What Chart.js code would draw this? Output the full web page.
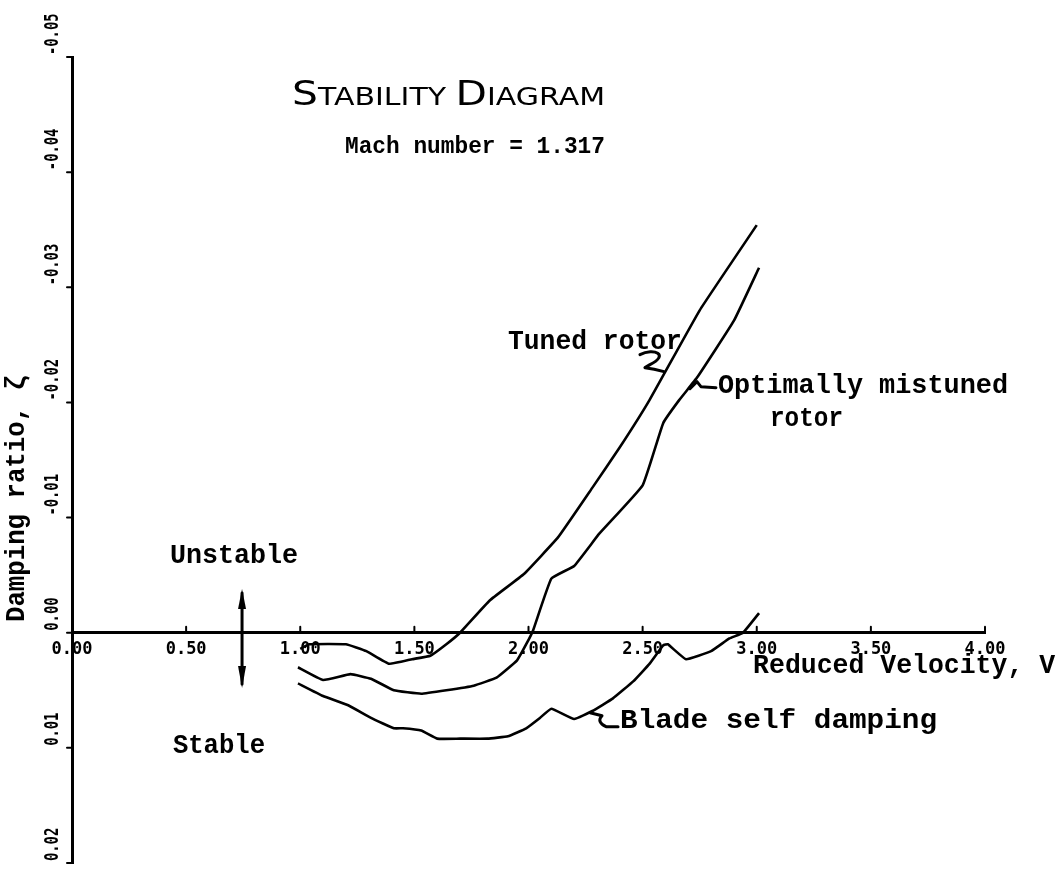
<!DOCTYPE html>
<html><head><meta charset="utf-8">
<script src="https://cdn.jsdelivr.net/npm/chart.js@4.4.1/dist/chart.umd.min.js"></script>
<style>html,body{margin:0;padding:0;background:#fff;}#wrap{width:1063px;height:878px;}</style>
</head><body><div id="wrap"><canvas id="c" width="1063" height="878"></canvas></div>
<script>
// ---- data ----
const velocityTuned = [1.00,1.04,1.20,1.29,1.39,1.49,1.57,1.64,1.70,1.83,1.98,2.13,2.28,2.40,2.53,2.75,3.00];
const zetaTuned     = [0.0014,0.0010,0.0010,0.0016,0.0027,0.0023,0.0020,0.0010,0.0000,-0.0028,-0.0051,-0.0083,-0.0126,-0.0161,-0.0202,-0.0280,-0.0354];

const velocityMistuned = [0.99,1.10,1.22,1.31,1.41,1.53,1.64,1.76,1.86,1.95,1.99,2.02,2.10,2.20,2.31,2.50,2.59,2.66,2.74,2.90,3.01];
const zetaMistuned     = [0.0030,0.0041,0.0036,0.0040,0.0050,0.0053,0.0050,0.0046,0.0039,0.0024,0.0010,-0.0002,-0.0047,-0.0058,-0.0086,-0.0128,-0.0182,-0.0202,-0.0222,-0.0271,-0.0317];

const velocityBlade = [0.99,1.10,1.21,1.31,1.41,1.45,1.53,1.60,1.70,1.82,1.91,1.99,2.05,2.10,2.20,2.28,2.37,2.46,2.53,2.59,2.61,2.69,2.80,2.88,2.94,3.01];
const zetaBlade     = [0.0044,0.0055,0.0063,0.0074,0.0083,0.0083,0.0085,0.0092,0.0092,0.0092,0.0090,0.0083,0.0074,0.0066,0.0075,0.0068,0.0057,0.0042,0.0027,0.0011,0.0010,0.0023,0.0016,0.0005,0.0000,-0.0017];

const xTickLabels = ['0.00','0.50','1.00','1.50','2.00','2.50','3.00','3.50','4.00'];
const yTickLabels = ['-0.05','-0.04','-0.03','-0.02','-0.01','0.00','0.01','0.02'];

const titleText = 'STABILITY DIAGRAM';
const subtitleText = 'Mach number = 1.317';
const xTitle = 'Reduced Velocity, V';
const yTitle = 'Damping ratio, \u03B6';

// stability arrow (data coords)
const arrowX = 0.745, arrowTop = -0.0038, arrowBottom = 0.0048;

// ---- layout of annotations (data coords: left x, right x, baseline y) ----
const notes = [
  {text:'Tuned rotor', x0:1.910, x1:2.672, y:-0.02467, leader:(c,x,y)=>{c.moveTo(x+132,y+6);c.bezierCurveTo(x+146,y-1,x+162,y+6,x+142,y+16);c.lineTo(x+137,y+19);c.quadraticCurveTo(x+146,y+20,x+156,y+23);}},
  {text:'Optimally mistuned', x0:2.830, x1:4.101, y:-0.02085, leader:(c,x,y)=>{c.moveTo(x-28,y-4);c.lineTo(x-21,y-11);c.lineTo(x-17,y-6);c.lineTo(x-2,y-5);}},
  {text:'rotor', x0:3.058, x1:3.378, y:-0.01798},
  {text:'Blade self damping', x0:2.401, x1:3.790, y:0.00825, leader:(c,x,y)=>{c.moveTo(x-30,y-15);c.lineTo(x-18,y-12);c.quadraticCurveTo(x-24,y-6,x-14,y-1);c.lineTo(x-2,y-1);}},
  {text:'Unstable', x0:0.429, x1:0.990, y:-0.00608},
  {text:'Stable', x0:0.442, x1:0.846, y:0.01043},
  {text:xTitle, x0:2.984, x1:4.307, y:0.00348}
];
const monoFont = 'bold 27px "Liberation Mono"';

function fitText(ctx, text, x, y, font, width, rot) {
  ctx.save();
  ctx.font = font;
  ctx.textAlign = 'left';
  ctx.textBaseline = 'alphabetic';
  const w = ctx.measureText(text).width;
  ctx.translate(x, y);
  if (rot) ctx.rotate(rot);
  ctx.scale(width / w, 1);
  ctx.fillText(text, 0, 0);
  ctx.restore();
}

const annot = {
  id: 'annot',
  afterDraw(chart) {
    const ctx = chart.ctx, xs = chart.scales.x, ys = chart.scales.y;
    const X = v => xs.getPixelForValue(v), Y = v => ys.getPixelForValue(v);
    ctx.save();
    ctx.fillStyle = '#000';
    ctx.strokeStyle = '#000';
    ctx.lineCap = 'round';
    ctx.lineJoin = 'round';

    // small tick marks
    ctx.lineWidth = 2;
    const y0 = Y(0);
    xs.ticks.forEach(t => { if (t.value > 0) { ctx.beginPath(); ctx.moveTo(X(t.value), y0 - 6); ctx.lineTo(X(t.value), y0); ctx.stroke(); } });
    const xl = chart.chartArea.left;
    ys.ticks.forEach(t => { ctx.beginPath(); ctx.moveTo(xl - 5, Y(t.value)); ctx.lineTo(xl, Y(t.value)); ctx.stroke(); });

    // rotated y tick labels
    ys.ticks.forEach(t => {
      const s = yTickLabels.find(l => Math.abs(parseFloat(l) - t.value) < 1e-6);
      if (!s) return;
      fitText(ctx, s, xl - 14, Y(t.value) - 2, 'bold 20px "DejaVu Sans Mono"', s.length * 8.3, -Math.PI / 2);
    });

    // y axis title (rotated)
    fitText(ctx, yTitle, 24, 622, monoFont, 247, -Math.PI / 2);

    // title with small caps
    const segs = [['S', 34], ['TABILITY ', 25], ['D', 34], ['IAGRAM', 25]];
    let nat = 0;
    segs.forEach(s => { ctx.font = s[1] + 'px "DejaVu Sans"'; nat += ctx.measureText(s[0]).width; });
    const sx = 313 / nat;
    let cx = X(0.964);
    const by = Y(-0.04579);
    segs.forEach(s => {
      ctx.font = s[1] + 'px "DejaVu Sans"';
      const w = ctx.measureText(s[0]).width;
      ctx.save(); ctx.translate(cx, by); ctx.scale(sx, 1); ctx.textBaseline = 'alphabetic'; ctx.fillText(s[0], 0, 0); ctx.restore();
      cx += w * sx;
    });
    fitText(ctx, subtitleText, X(1.196), Y(-0.04162), 'bold 23px "Liberation Mono"', 260);

    // annotations
    notes.forEach(n => {
      const lx = X(n.x0), by2 = Y(n.y);
      fitText(ctx, n.text, lx, by2, monoFont, X(n.x1) - lx);
      if (n.leader) {
        ctx.lineWidth = 3;
        ctx.beginPath();
        n.leader(ctx, lx, by2);
        ctx.stroke();
      }
    });

    // double arrow
    const ax = X(arrowX), at = Y(arrowTop), ab = Y(arrowBottom);
    ctx.lineWidth = 3;
    ctx.beginPath(); ctx.moveTo(ax, at + 4); ctx.lineTo(ax, ab - 4); ctx.stroke();
    ctx.beginPath(); ctx.moveTo(ax, at); ctx.lineTo(ax - 4, at + 20); ctx.lineTo(ax + 4, at + 20); ctx.closePath(); ctx.fill();
    ctx.beginPath(); ctx.moveTo(ax, ab); ctx.lineTo(ax - 4, ab - 22); ctx.lineTo(ax + 4, ab - 22); ctx.closePath(); ctx.fill();
    ctx.restore();
  }
};

function series(xv, yv) {
  return {
    data: xv.map((x, i) => ({x: x, y: yv[i]})),
    showLine: true, borderColor: '#000', backgroundColor: '#000',
    borderWidth: 2.6, pointRadius: 0, tension: 0.1, fill: false
  };
}

new Chart(document.getElementById('c').getContext('2d'), {
  type: 'scatter',
  data: {datasets: [
    series(velocityTuned, zetaTuned),
    series(velocityMistuned, zetaMistuned),
    series(velocityBlade, zetaBlade)
  ]},
  options: {
    responsive: false, animation: false, devicePixelRatio: 1,
    layout: {padding: {top: 57, right: 78, bottom: 15, left: 0}},
    plugins: {legend: {display: false}, tooltip: {enabled: false}, title: {display: false}},
    scales: {
      x: {
        type: 'linear', position: {y: 0}, min: 0, max: 4,
        ticks: {stepSize: 0.5, autoSkip: false, maxRotation: 0, padding: 7, color: '#000',
          font: {family: 'DejaVu Sans Mono', size: 17, weight: 'bold'},
          callback: (v, i) => xTickLabels[i]},
        grid: {display: false, drawTicks: false},
        border: {display: true, color: '#000', width: 3}
      },
      y: {
        type: 'linear', position: 'left', reverse: true, min: -0.05, max: 0.02,
        ticks: {display: false, stepSize: 0.01},
        grid: {display: false, drawTicks: false},
        border: {display: true, color: '#000', width: 3},
        afterFit: s => { s.width = 72; }
      }
    }
  },
  plugins: [annot]
});
</script>
</body></html>
